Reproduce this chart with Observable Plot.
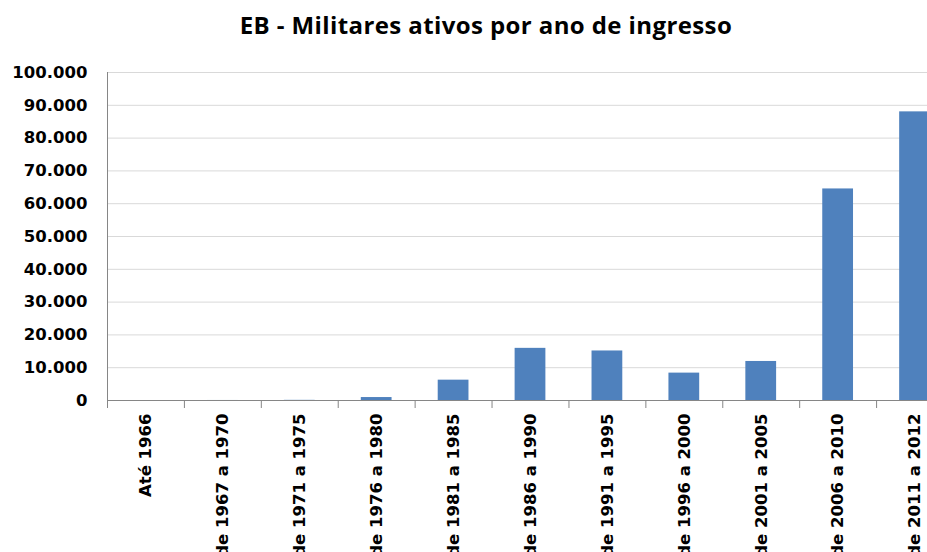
<!DOCTYPE html>
<html><head><meta charset="utf-8">
<script src="https://cdn.jsdelivr.net/npm/d3@7"></script>
<script src="https://cdn.jsdelivr.net/npm/@observablehq/plot@0.6"></script>
<style>
html,body{margin:0;padding:0;background:#fff;overflow:hidden;width:927px;height:552px}
#title{height:50px;line-height:50px;padding-left:45px;text-align:center;font-family:"Open Sans";font-weight:700;font-size:24px;letter-spacing:0.4px;color:#000;white-space:nowrap}
</style></head><body>
<div id="title">EB - Militares ativos por ano de ingresso</div>
<div id="chart"></div>
<script>
const categories = ["Até 1966","de 1967 a 1970","de 1971 a 1975","de 1976 a 1980","de 1981 a 1985","de 1986 a 1990","de 1991 a 1995","de 1996 a 2000","de 2001 a 2005","de 2006 a 2010","de 2011 a 2012"];
const values = [0, 10, 50, 900, 6200, 15900, 15100, 8350, 11900, 64500, 88000];
const yTicks = [0,10000,20000,30000,40000,50000,60000,70000,80000,90000,100000];

const data = categories.map((c, i) => ({periodo: c, militares: values[i]}));
const fmt = d => d3.format(",")(d).replace(/,/g, ".");
const xRange = [107, 953];
const step = (xRange[1] - xRange[0]) / categories.length;

const chart = Plot.plot({
  width: 927, height: 502,
  marginTop: 22, marginBottom: 152, marginLeft: 107, marginRight: 0,
  style: {fontFamily: "DejaVu Sans", fontSize: "16.5px", fontWeight: "bold", color: "#000", background: "#fff"},
  x: {domain: categories, range: xRange, paddingInner: 0.6, paddingOuter: 0.3, round: false, label: null},
  y: {domain: [0, 100000], label: null},
  marks: [
    Plot.gridY(yTicks, {stroke: "#d9d9d9", strokeOpacity: 1}),
    Plot.barY(data, {x: "periodo", y: "militares", fill: "#4f81bd"}),
    Plot.ruleY([0], {stroke: "#868686"}),
    Plot.ruleX([categories[0]], {x: d => d, dx: -step / 2, y1: 0, y2: 100000, stroke: "#868686"}),
    Plot.axisX({tickSize: 8, tickFormat: () => "", label: null, dx: -step / 2, stroke: "#868686", strokeOpacity: 1}),
    Plot.axisX({tickSize: 0, tickPadding: 13, tickRotate: -90, label: null, fontSize: 16.5, fontWeight: "bold", fill: "#000"}),
    Plot.axisY(yTicks, {tickSize: 0, tickPadding: 20, tickFormat: fmt, label: null, fontSize: 16.5, fontWeight: "bold", fill: "#000"})
  ]
});
document.getElementById("chart").appendChild(chart);
</script>
</body></html>
